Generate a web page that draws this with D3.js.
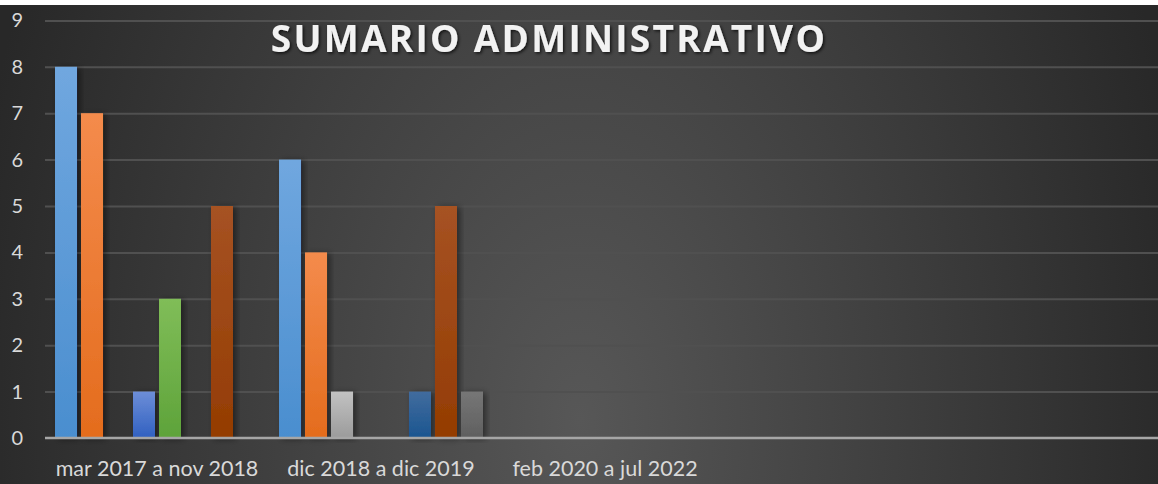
<!DOCTYPE html>
<html>
<head>
<meta charset="utf-8">
<script src="https://cdn.jsdelivr.net/npm/d3@7"></script>
<style>
  html, body { margin: 0; padding: 0; background: #ffffff; }
  svg { display: block; }
</style>
</head>
<body>
<svg id="chart" width="1158" height="484"></svg>
<script>
// categorias
const categories = ["mar 2017 a nov 2018", "dic 2018 a dic 2019", "feb 2020 a jul 2022"];
const seriesNames = ["Serie 1", "Serie 2", "Serie 3", "Serie 4", "Serie 5", "Serie 6", "Serie 7", "Serie 8"];
// valores por serie, uno por categoria
const serie1 = [8, 6, 0];
const serie2 = [7, 4, 0];
const serie3 = [0, 1, 0];
const serie4 = [1, 0, 0];
const serie5 = [3, 0, 0];
const serie6 = [0, 1, 0];
const serie7 = [5, 5, 0];
const serie8 = [0, 1, 0];
const yTicks = [0, 1, 2, 3, 4, 5, 6, 7, 8, 9];
const title = "SUMARIO ADMINISTRATIVO";

const seriesValues = [serie1, serie2, serie3, serie4, serie5, serie6, serie7, serie8];
// colores [arriba, abajo] de cada serie
const colors = [
    ["#70a7df", "#4a8ecf"],
    ["#f48b4c", "#e46c1d"],
    ["#c2c2c2", "#9b9b9b"],
    ["#6d8ed8", "#3060c0"],
    ["#80bd58", "#5ea33a"],
    ["#416c9e", "#1b5590"],
    ["#a65223", "#943c02"],
    ["#767676", "#5f5f5f"]
];

const svg = d3.select("#chart");
const attr_area = { width: 1158, height: 484, top: 5, left: 45, bandW: 224 };

const defs = svg.append("defs");

// fondo con degradado radial (estirado en vertical)
const bg = defs.append("radialGradient")
    .attr("id", "bg")
    .attr("gradientUnits", "userSpaceOnUse")
    .attr("cx", 580).attr("cy", 420).attr("r", 620)
    .attr("gradientTransform", "translate(580,420) scale(1,1.6) translate(-580,-420)");
bg.append("stop").attr("offset", "0%").attr("stop-color", "#575757");
bg.append("stop").attr("offset", "100%").attr("stop-color", "#282828");

colors.forEach((c, i) => {
    const g = defs.append("linearGradient")
        .attr("id", "bar" + i)
        .attr("x1", 0).attr("y1", 0).attr("x2", 0).attr("y2", 1);
    g.append("stop").attr("offset", "0%").attr("stop-color", c[0]);
    g.append("stop").attr("offset", "100%").attr("stop-color", c[1]);
});

const shadow = defs.append("filter").attr("id", "shadow")
    .attr("x", "-30%").attr("y", "-10%").attr("width", "160%").attr("height", "120%");
shadow.append("feDropShadow")
    .attr("dx", 3).attr("dy", 1).attr("stdDeviation", 3)
    .attr("flood-color", "#000").attr("flood-opacity", 0.45);

const tshadow = defs.append("filter").attr("id", "tshadow");
tshadow.append("feDropShadow")
    .attr("dx", 1.5).attr("dy", 1.5).attr("stdDeviation", 1.5)
    .attr("flood-color", "#000").attr("flood-opacity", 0.7);

svg.append("rect")
    .attr("x", 0).attr("y", attr_area.top)
    .attr("width", attr_area.width).attr("height", attr_area.height - attr_area.top)
    .attr("fill", "url(#bg)");

// escalas
const scaleY = d3.scaleLinear().domain([0, 9]).range([438, 20.4]);
const scaleX = d3.scaleBand()
    .domain(categories)
    .range([attr_area.left, attr_area.left + categories.length * attr_area.bandW]);
const scaleX1 = d3.scaleBand()
    .domain(d3.range(seriesNames.length))
    .range([0, attr_area.bandW])
    .paddingInner(4 / 26)
    .paddingOuter(0.385);

// lineas de division
svg.append("g")
    .attr("transform", `translate(${attr_area.left}, 0)`)
    .call(d3.axisLeft(scaleY).tickValues(yTicks.slice(1)).tickSize(-(attr_area.width - attr_area.left)).tickFormat(""))
    .call(g => g.select(".domain").remove())
    .call(g => g.selectAll("line").attr("stroke", "#505050").attr("stroke-width", 2));

// eje Y
svg.append("g")
    .attr("transform", "translate(23, 0)")
    .call(d3.axisLeft(scaleY).tickValues(yTicks).tickSize(0).tickPadding(0))
    .call(g => g.select(".domain").remove())
    .call(g => g.selectAll("text")
        .attr("fill", "#d9d9d9")
        .style("font-family", "Lato, 'Open Sans', sans-serif")
        .style("font-size", "20px"));

// barras
const groups = svg.append("g")
    .selectAll("g")
    .data(categories)
    .join("g")
    .attr("transform", d => `translate(${scaleX(d)}, 0)`);

groups.selectAll("rect")
    .data((d, ci) => seriesValues.map((vals, si) => ({ si: si, value: vals[ci] })).filter(d => d.value > 0))
    .join("rect")
    .attr("x", d => scaleX1(d.si))
    .attr("y", d => scaleY(d.value))
    .attr("width", scaleX1.bandwidth())
    .attr("height", d => scaleY(0) - scaleY(d.value))
    .attr("fill", d => `url(#bar${d.si})`)
    .attr("filter", "url(#shadow)");

// eje X
const axisX = svg.append("g")
    .attr("transform", `translate(0, 438)`)
    .call(d3.axisBottom(scaleX).tickSize(0).tickPadding(23));
axisX.select(".domain")
    .attr("d", `M${attr_area.left},0H${attr_area.width}`)
    .attr("stroke", "#a6a6a6").attr("stroke-width", 2.5);
axisX.selectAll("text")
    .attr("fill", "#d9d9d9")
    .style("font-family", "Lato, 'Open Sans', sans-serif")
    .style("font-size", "21.5px");

// titulo
svg.append("text")
    .attr("x", 549).attr("y", 52)
    .attr("text-anchor", "middle")
    .attr("fill", "#f2f2f2")
    .attr("filter", "url(#tshadow)")
    .style("font-family", "'Open Sans', sans-serif")
    .style("font-weight", "bold")
    .style("font-size", "37px")
    .style("letter-spacing", "2.3px")
    .text(title);
</script>
</body>
</html>
